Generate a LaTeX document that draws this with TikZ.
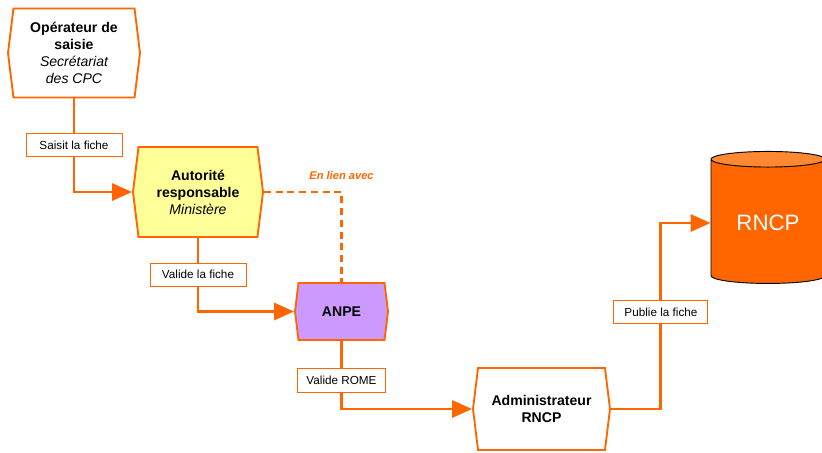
\documentclass[tikz,border=0pt]{standalone}
\usepackage{fontspec}
\setmainfont{Liberation Sans}
\usetikzlibrary{shapes.geometric,shapes.symbols,arrows.meta}
\definecolor{rorange}{HTML}{FF6600}
\definecolor{ryellow}{HTML}{FFFF99}
\definecolor{rpurple}{HTML}{CC99FF}
\definecolor{rlight}{HTML}{FF8833}

\begin{document}
\begin{tikzpicture}[x=0.03cm,y=-0.03cm,
        acteur/.style={shape=signal, signal to=west and east, signal pointer angle=166,
            draw=rorange, line width=1.6pt, fill=white, align=center,
            font=\fontsize{12}{14.5}\selectfont\bfseries, inner sep=2pt},
        etiq/.style={draw=rorange, line width=0.8pt, fill=white, minimum height=0.7cm,
            font=\fontsize{10}{12}\selectfont},
        flux/.style={draw=rorange, line width=2.5pt, -{Triangle[length=17pt,width=14.5pt]}},
        lien/.style={draw=rorange, line width=2pt, dash pattern=on 6pt off 4pt}]
        \useasboundingbox (0,0) rectangle (822,452);
        % acteurs
        \node[acteur, minimum width=3.96cm, minimum height=2.67cm] (op) at (74,53)
            {Opérateur de\\saisie\\{\mdseries\itshape Secrétariat}\\{\mdseries\itshape des CPC}};
        \node[acteur, fill=ryellow, minimum width=3.9cm, minimum height=2.7cm] (aut) at (198,192)
            {Autorité\\responsable\\{\mdseries\itshape Ministère}};
        \node[acteur, fill=rpurple, minimum width=2.79cm, minimum height=1.71cm] (anpe) at (341.5,311.5)
            {ANPE};
        \node[acteur, minimum width=4.11cm, minimum height=2.46cm] (admin) at (541.5,409)
            {Administrateur\\RNCP};
        \node[shape=cylinder, shape border rotate=90, aspect=0.22, draw=black, line width=0.8pt,
            cylinder uses custom fill, cylinder body fill=rorange, cylinder end fill=rlight,
            minimum width=3.42cm, minimum height=3.96cm, text=white,
            font=\fontsize{19}{22}\selectfont] (rncp) at (768,223) {RNCP};
        % flux
        \draw[flux] (op.south) |- node[etiq, pos=0.25, minimum width=2.88cm] {Saisit la fiche} (aut.west);
        \draw[flux] (aut.south) |- node[etiq, pos=0.25, minimum width=2.88cm] {Valide la fiche} (anpe.west);
        \draw[flux] (anpe.south) |- node[etiq, pos=0.29, minimum width=2.64cm] {Valide ROME} (admin.west);
        \draw[flux] (admin.east) -- ++(50,0) |- node[etiq, pos=0.26, minimum width=2.82cm] {Publie la fiche} (rncp.west);
        \draw[lien] (aut.east) -| node[pos=0.5, above=6pt, text=rorange,
            font=\fontsize{9.5}{11}\selectfont\bfseries\itshape] {En lien avec} (anpe.north);
\end{tikzpicture}
\end{document}
